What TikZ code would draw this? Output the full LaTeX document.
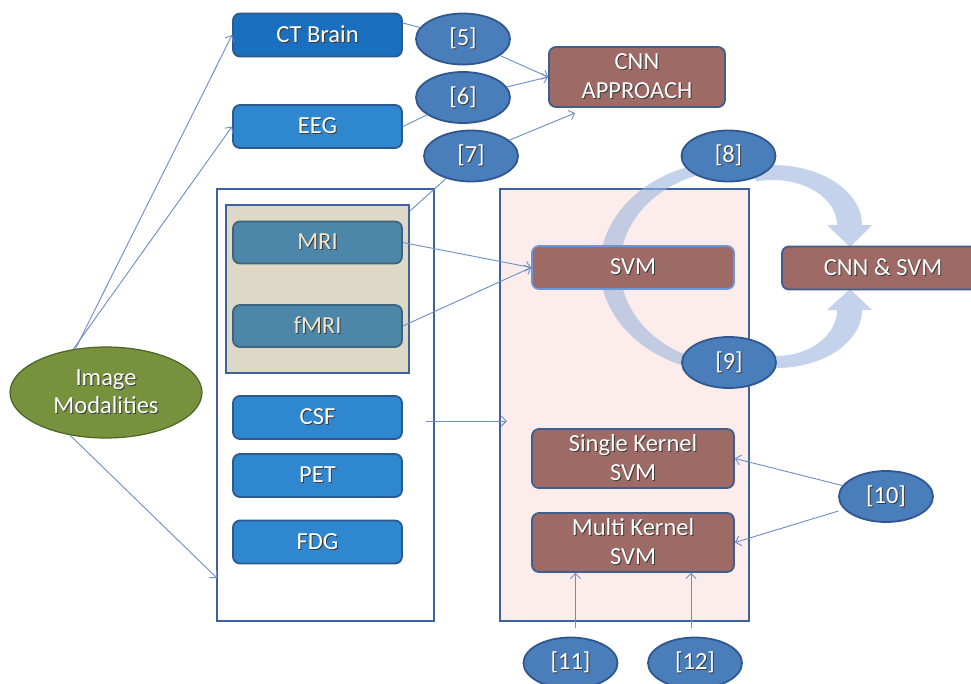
\documentclass[tikz,border=0pt]{standalone}
\usepackage{fontspec}
\setmainfont{Carlito}
\usetikzlibrary{shapes.geometric,arrows.meta,calc}
\definecolor{ctblue}{HTML}{1A6FBF}
\definecolor{midblue}{HTML}{2F87CF}
\definecolor{boxedge}{HTML}{2C5A8C}
\definecolor{mriblue}{HTML}{4C86A8}
\definecolor{mriedge}{HTML}{3D6580}
\definecolor{mritext}{HTML}{EEE5CF}
\definecolor{tanfill}{HTML}{DDD9C6}
\definecolor{frame}{HTML}{3E62A0}
\definecolor{pinkfill}{HTML}{FCEDEC}
\definecolor{brownfill}{HTML}{9E6A65}
\definecolor{brownedge}{HTML}{3F5E8C}
\definecolor{svmedge}{HTML}{6B95D4}
\definecolor{ellfill}{HTML}{4A7EBB}
\definecolor{elledge}{HTML}{30578F}
\definecolor{olive}{HTML}{77923D}
\definecolor{oliveedge}{HTML}{4E6329}
\definecolor{conn}{HTML}{6C8DC6}
\definecolor{ringcol}{HTML}{9DB5DE}
\definecolor{shadowcol}{HTML}{3A3A3A}
\newcommand\shtx[1]{\leavevmode\rlap{\kern1pt\raisebox{-1pt}{\textcolor{shadowcol}{#1}}}#1}
\tikzset{
  base/.style={rounded corners=7pt, line width=1.8pt, text=white,
    font=\fontsize{24.5}{29}\selectfont, align=center, inner sep=0pt},
  bluebox/.style={base, fill=midblue, draw=boxedge, minimum width=169pt, minimum height=43pt},
  ctbox/.style={bluebox, fill=ctblue},
  mribox/.style={base, fill=mriblue, draw=mriedge, text=mritext, minimum width=169pt, minimum height=42pt},
  brownbox/.style={base, fill=brownfill, draw=brownedge, minimum width=202pt, minimum height=43pt},
  tallbrown/.style={brownbox, minimum height=59pt},
  refell/.style={ellipse, fill=ellfill, draw=elledge, line width=1.8pt, text=white,
    font=\fontsize{24.5}{29}\selectfont, inner sep=0pt, minimum width=94pt, minimum height=51pt},
  framebox/.style={rectangle, draw=frame, line width=2.5pt, inner sep=0pt},
  ringfill/.style={fill=ringcol, fill opacity=0.6},
  arr/.style={draw=conn, line width=0.9pt, -{Straight Barb[length=5pt,width=10pt]}},
  ln/.style={draw=conn, line width=0.9pt},
}
\begin{document}
\begin{tikzpicture}[x=1pt,y=-1pt]
\useasboundingbox (0,0) rectangle (971,683);
\clip (0,0) rectangle (971,683);
\fill[white] (0,0) rectangle (971,683);

% frames
\node[framebox, fill=white, minimum width=217pt, minimum height=432pt] (leftbox) at (325.5,405) {};
\node[framebox, fill=pinkfill, minimum width=249pt, minimum height=432pt] (rightbox) at (624.5,405) {};
\node[framebox, fill=tanfill, minimum width=183pt, minimum height=168pt] (tan) at (317.5,289) {};

% circular arrows
\coordinate (rc) at (731,267);
\fill[ringfill] ($(rc)+(100:131pt and 106pt)$) arc[start angle=100, end angle=260, x radius=131pt, y radius=106pt]
  -- ($(rc)+(260:111pt and 96pt)$) arc[start angle=260, end angle=100, x radius=111pt, y radius=96pt] -- cycle;
\coordinate (tc) at (773,225);
\fill[ringfill] ($(tc)+(105:89pt and 60pt)$) arc[start angle=105, end angle=0, x radius=89pt, y radius=60pt]
  -- (872,225) -- (850,247) -- (827,225) -- ($(tc)+(64pt,0pt)$)
  arc[start angle=0, end angle=105, x radius=64pt, y radius=45pt] -- cycle;
\coordinate (bc) at (776,310);
\fill[ringfill] ($(bc)+(255:86pt and 58pt)$) arc[start angle=255, end angle=360, x radius=86pt, y radius=58pt]
  -- (872,310) -- (850,289) -- (827,310) -- ($(bc)+(61pt,0pt)$)
  arc[start angle=360, end angle=255, x radius=61pt, y radius=46pt] -- cycle;

% nodes
\node[ctbox] (ctb) at (317.5,35) {\shtx{CT Brain}};
\node[bluebox] (eeg) at (317.5,126.5) {\shtx{EEG}};
\node[mribox] (mri) at (317.5,242.5) {\shtx{MRI}};
\node[mribox] (fmri) at (317.5,326) {\shtx{fMRI}};
\node[bluebox] (csf) at (317.5,417.5) {\shtx{CSF}};
\node[bluebox] (pet) at (317.5,475.5) {\shtx{PET}};
\node[bluebox] (fdg) at (317.5,542) {\shtx{FDG}};
\node[brownbox, minimum width=176pt, minimum height=60pt] (cnn) at (637,77) {\shtx{CNN}\\\shtx{APPROACH}};
\node[brownbox, draw=svmedge] (svm) at (633,267.5) {\shtx{SVM}};
\node[brownbox] (cnnsvm) at (883,268) {\shtx{CNN \& SVM}};
\node[tallbrown] (single) at (633,458.5) {\shtx{Single Kernel}\\\shtx{SVM}};
\node[tallbrown] (multi) at (633,542.5) {\shtx{Multi Kernel}\\\shtx{SVM}};
\node[refell] (e5) at (463,39) {\shtx{[5]}};
\node[refell] (e6) at (463,97.5) {\shtx{[6]}};
\node[refell] (e7) at (471,156) {\shtx{[7]}};
\node[refell] (e8) at (728.5,156) {\shtx{[8]}};
\node[refell] (e9) at (729,362.5) {\shtx{[9]}};
\node[refell] (e10) at (886,496.5) {\shtx{[10]}};
\node[refell] (e11) at (570.5,663) {\shtx{[11]}};
\node[refell] (e12) at (695,663) {\shtx{[12]}};
\node[ellipse, fill=olive, draw=oliveedge, line width=1.2pt, text=white, align=center,
  font=\fontsize{24.5}{28}\selectfont, inner sep=0pt, minimum width=192pt, minimum height=91pt]
  (im) at (106,392.5) {\shtx{Image}\\\shtx{Modalities}};

% free ends
\coordinate (lbin) at (217,578);
\coordinate (cnnin) at (575,113);
\coordinate (csfout) at (426,421);
\coordinate (rbin) at (507,421);

% connectors
\draw[arr] (im.125) -- (ctb.west);
\draw[arr] (im.127) -- (eeg.west);
\draw[arr] (im.-130) -- (lbin);
\draw[ln] ([yshift=12pt]ctb.east) -- (e5);
\draw[arr] (e5) -- (cnn.west);
\draw[ln] (eeg.east) -- (e6);
\draw[arr] (e6) -- (cnn.west);
\draw[ln] ($(tan.north east)+(0,7)$) -- (e7);
\draw[arr] (e7) -- (cnnin);
\draw[arr] (mri.east) -- (svm.west);
\draw[arr] (fmri.east) -- (svm.west);
\draw[arr] (csfout) -- (rbin);
\draw[arr] (e10) -- (single.east);
\draw[arr, shorten <=6pt] (e10) -- (multi.east);
\draw[arr] ([xshift=5pt,yshift=9pt]e11.north) -- ([xshift=5pt]e11.north |- multi.south);
\draw[arr] ([xshift=-4pt,yshift=9pt]e12.north) -- ([xshift=-4pt]e12.north |- multi.south);
\end{tikzpicture}
\end{document}
